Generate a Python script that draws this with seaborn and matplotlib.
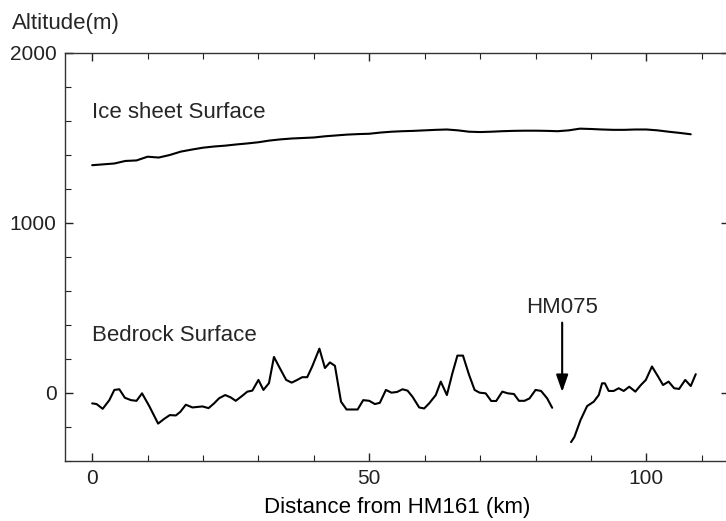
import matplotlib
matplotlib.use("Agg")
import matplotlib.pyplot as plt
from matplotlib.ticker import MultipleLocator
import pandas as pd
import seaborn as sns

# Ice sheet surface profile (km, m)
ice_km = [0, 2, 4, 6, 8, 10, 12, 14, 16, 18, 20, 22, 24, 26, 28, 30, 32, 34, 36, 38,
          40, 42, 44, 46, 48, 50, 52, 54, 56, 58, 60, 62, 64, 66, 68, 70, 72, 74, 76, 78,
          80, 82, 84, 86, 88, 90, 92, 94, 96, 98, 100, 102, 104, 106, 108]
ice_m = [1340, 1345, 1350, 1365, 1368, 1390, 1385, 1400, 1420, 1432, 1443, 1450, 1455,
         1462, 1468, 1475, 1485, 1492, 1497, 1500, 1503, 1510, 1515, 1520, 1523, 1525,
         1532, 1537, 1540, 1542, 1545, 1548, 1550, 1545, 1537, 1535, 1537, 1540, 1542,
         1543, 1543, 1542, 1540, 1545, 1555, 1553, 1550, 1548, 1548, 1550, 1550, 1545,
         1537, 1530, 1522]

# Bedrock surface, west of HM075
bed1_km = [0, 0.8, 1.9, 3.1, 4.0, 4.9, 5.9, 7.0, 8.0, 9.0, 10.3, 11.9, 13.0, 14.0, 15.1,
           15.9, 16.9, 18.1, 19.9, 21.0, 22.0, 22.9, 24.0, 25.0, 25.9, 27.1, 28.0, 28.9,
           30.0, 30.9, 31.9, 32.8, 33.7, 35.0, 36.0, 37.0, 37.9, 38.8, 39.7, 41.0, 42.0,
           42.9, 43.8, 44.9, 45.9, 47.0, 47.9, 48.9, 50.0, 51.0, 51.9, 53.0, 54.0, 55.0,
           56.0, 56.9, 57.8, 59.0, 59.9, 60.8, 62.0, 62.9, 64.0, 65.0, 65.9, 66.9, 68.0,
           69.0, 69.9, 71.0, 72.0, 72.9, 74.0, 75.0, 76.1, 77.0, 78.0, 78.9, 80.0, 81.0,
           82.1, 83.0]
bed1_m = [-61, -65, -93, -42, 18, 22, -28, -42, -46, -2, -77, -180, -152, -130, -132,
          -111, -69, -85, -79, -89, -61, -31, -12, -26, -46, -16, 8, 14,
          77, 18, 58, 212, 156, 77, 61, 77, 93, 93, 156, 261, 147,
          180, 160, -51, -97, -97, -97, -42, -46, -65, -58, 18, 2, 6,
          22, 14, -22, -85, -91, -61, -12, 67, -12, 117, 220, 220, 107,
          18, 2, -2, -47, -47, 8, -2, -6, -46, -46, -32, 18, 12,
          -32, -87]

# Bedrock surface, east of HM075
bed2_km = [86.4, 87.0, 88.1, 89.3, 90.5, 91.4, 92.0, 92.5, 93.2, 94.1, 95.0, 95.9, 96.9,
           98.0, 99.0, 99.9, 101.0, 102.1, 103.0, 104.0, 105.0, 105.9, 107.0, 108.0, 108.9]
bed2_m = [-289, -259, -160, -77, -51, -12, 57, 57, 12, 12, 28, 12, 37,
          8, 47, 77, 156, 97, 47, 67, 28, 24, 77, 41, 111]

hm075_km = 84.8

sns.set_theme(style="ticks")
plt.rcParams['font.family'] = ['Liberation Sans', 'DejaVu Sans']

fig = plt.figure(figsize=(7.26, 5.21), dpi=100)
# right spine sits just past the image edge, as in the scanned original
ax = fig.add_axes([65 / 726, 60 / 521, (729 - 65) / 726, 408 / 521])

line_kw = dict(color="black", linewidth=1.5, estimator=None, sort=False, ax=ax)
sns.lineplot(data=pd.DataFrame({"km": ice_km, "m": ice_m}), x="km", y="m", **line_kw)
sns.lineplot(data=pd.DataFrame({"km": bed1_km, "m": bed1_m}), x="km", y="m", **line_kw)
sns.lineplot(data=pd.DataFrame({"km": bed2_km, "m": bed2_m}), x="km", y="m", **line_kw)

ax.set_xlim(-4.9, 114.9)
ax.set_ylim(-400, 2000)

ax.xaxis.set_major_locator(MultipleLocator(50))
ax.xaxis.set_minor_locator(MultipleLocator(10))
ax.yaxis.set_major_locator(MultipleLocator(1000))
ax.yaxis.set_minor_locator(MultipleLocator(200))
ax.tick_params(which="both", direction="in", top=True, right=True, colors="#222222",
               labelsize=15, pad=6)
ax.tick_params(which="major", length=6, width=1)
ax.tick_params(which="minor", length=4, width=0.8)
ax.tick_params(axis="y", which="minor", right=False)
for s in ax.spines.values():
    s.set_color("#333333")
    s.set_linewidth(1)

ax.set_xlabel("Distance from HM161 (km)", fontsize=16, labelpad=6, color="black")
ax.set_ylabel("")
fig.text(12 / 726, 1 - 23 / 521, "Altitude(m)", fontsize=16, va="center", ha="left")

ax.text(0, 1618, "Ice sheet Surface", fontsize=16, va="baseline", ha="left")
ax.text(0, 304, "Bedrock Surface", fontsize=16, va="baseline", ha="left")
ax.text(hm075_km, 473, "HM075", fontsize=16, va="baseline", ha="center")
ax.annotate("", xy=(hm075_km, 6), xytext=(hm075_km, 414),
            arrowprops=dict(arrowstyle="-|>,head_length=0.86,head_width=0.3",
                            color="black", lw=1.5, shrinkA=0, shrinkB=0))

fig.savefig("out.png", dpi=100)
